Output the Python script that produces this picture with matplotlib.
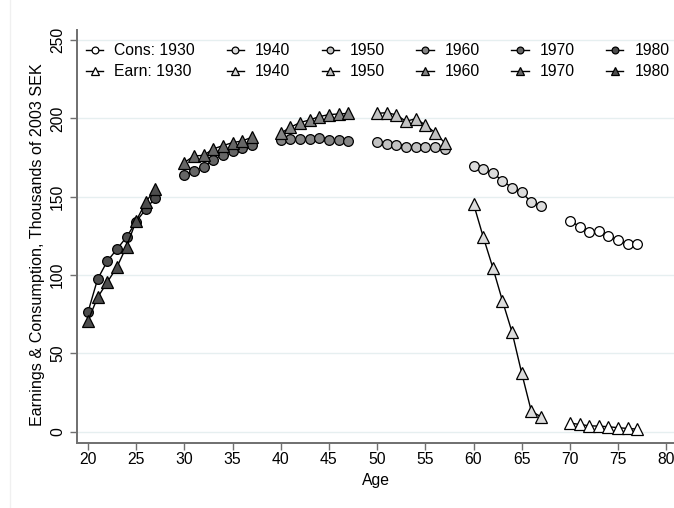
import matplotlib.pyplot as plt
from matplotlib.lines import Line2D

cohorts = [1930, 1940, 1950, 1960, 1970, 1980]
start_ages = [70, 60, 50, 40, 30, 20]

cons_1930 = [134.8, 130.9, 127.3, 128.0, 125.2, 122.2, 119.8, 119.6]
cons_1940 = [169.6, 167.6, 165.0, 160.3, 155.6, 153.0, 146.3, 144.3]
cons_1950 = [184.9, 183.9, 183.2, 181.6, 182.0, 182.0, 181.8, 180.7]
cons_1960 = [186.5, 186.6, 186.8, 186.8, 187.6, 186.0, 186.2, 185.8]
cons_1970 = [163.7, 166.2, 169.2, 173.5, 176.9, 179.4, 181.3, 183.2]
cons_1980 = [76.3, 97.4, 108.8, 116.5, 124.2, 134.1, 142.0, 149.4]

earn_1930 = [5.5, 4.7, 3.8, 3.6, 3.2, 2.6, 2.1, 1.7]
earn_1940 = [145.5, 124.5, 104.8, 83.6, 63.5, 37.4, 13.0, 9.6]
earn_1950 = [203.2, 203.6, 202.2, 198.1, 199.8, 195.8, 190.9, 184.5]
earn_1960 = [190.5, 194.3, 197.3, 199.0, 201.1, 202.4, 202.8, 203.2]
earn_1970 = [171.8, 176.0, 176.4, 180.5, 182.6, 184.5, 185.6, 187.9]
earn_1980 = [70.8, 85.7, 95.4, 105.0, 118.2, 134.6, 146.5, 155.2]

cons = [cons_1930, cons_1940, cons_1950, cons_1960, cons_1970, cons_1980]
earn = [earn_1930, earn_1940, earn_1950, earn_1960, earn_1970, earn_1980]
fills = ['#ffffff', '#dcdcdc', '#c2c2c2', '#858585', '#666666', '#4d4d4d']

plt.rcParams['font.family'] = ['Liberation Sans', 'DejaVu Sans']
plt.rcParams['font.size'] = 11.3

fig = plt.figure(figsize=(6.74, 5.08), dpi=100)
ax = fig.add_axes([0.1142, 0.1285, 0.8858, 0.8125])

handles = []
for i, year in enumerate(cohorts):
    ages = list(range(start_ages[i], start_ages[i] + len(cons[i])))
    hc, = ax.plot(ages, cons[i], '-', color='black', lw=1.0,
                  marker='o', ms=7, mfc=fills[i], mec='black', mew=0.9)
    he, = ax.plot(ages, earn[i], '-', color='black', lw=1.0,
                  marker='^', ms=8, mfc=fills[i], mec='black', mew=0.9)
    handles += [hc, he]

labels = []
for i, year in enumerate(cohorts):
    if i == 0:
        labels += [f'Cons: {year}', f'Earn: {year}']
    else:
        labels += [str(year), str(year)]

leg = ax.legend(handles, labels, ncol=6, loc='upper left',
                bbox_to_anchor=(-0.003, 0.995), frameon=False,
                handlelength=1.1, handletextpad=0.7, columnspacing=2.0,
                labelspacing=0.4, borderaxespad=0.3, markerscale=0.7)

ax.set_xlim(18.86, 80.8)
ax.set_ylim(-7.0, 256.4)
ax.set_xticks(range(20, 81, 5))
ax.set_yticks(range(0, 251, 50))
ax.set_yticklabels([str(v) for v in range(0, 251, 50)], rotation=90, va='center')
ax.grid(axis='y', color='#e6eff0', lw=1.0)
ax.set_axisbelow(True)

for side in ['top', 'right']:
    ax.spines[side].set_visible(False)
for side in ['left', 'bottom']:
    ax.spines[side].set_color('#6f6f6f')
    ax.spines[side].set_linewidth(1.4)
ax.tick_params(colors='#6f6f6f', labelcolor='black', length=5, width=1.0)
ax.tick_params(axis='x', pad=2)

ax.set_xlabel('Age', labelpad=4)
ax.set_ylabel('Earnings & Consumption, Thousands of 2003 SEK', labelpad=4,
              fontsize=11.6, y=0.48)

fig.add_artist(Line2D([10 / 674, 10 / 674], [0, 1], color='#f0f0f0', lw=1.0))

fig.savefig('out.png', dpi=100)
